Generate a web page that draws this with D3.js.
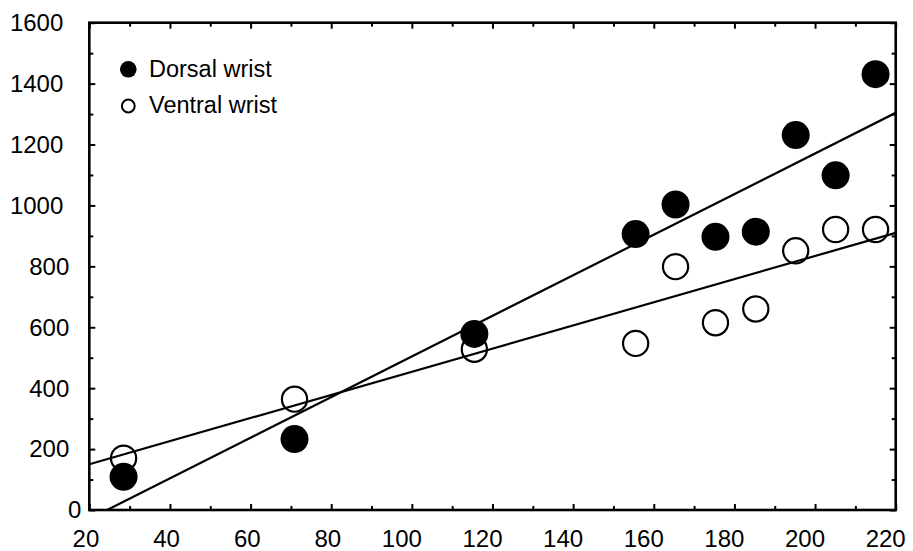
<!DOCTYPE html>
<html>
<head>
<meta charset="utf-8">
<script src="https://cdn.jsdelivr.net/npm/d3@7"></script>
<style>
  html, body { margin: 0; padding: 0; background: #fff; }
  svg { display: block; }
  text { font-family: "Liberation Sans", Arial, sans-serif; fill: #000; }
</style>
</head>
<body>
<svg id="chart" width="913" height="551"></svg>
<script>
// Wrist measurements: x position vs. response, two sites
const xDorsal  = [28.5, 70.9, 115.5, 155.5, 165.4, 175.3, 185.3, 195.2, 205.1, 215.0];
const yDorsal  = [109, 233, 578, 906, 1003, 897, 914, 1231, 1099, 1431];
const xVentral = [28.5, 70.9, 115.5, 155.5, 165.4, 175.3, 185.3, 195.2, 205.1, 215.0];
const yVentral = [170, 364, 528, 547, 799, 615, 660, 851, 921, 921];

// Linear fits [slope, intercept]
const fitDorsal  = [6.667, -162.7];
const fitVentral = [3.8, 74];

const seriesNames = ["Dorsal wrist", "Ventral wrist"];
const xTicks = [20, 40, 60, 80, 100, 120, 140, 160, 180, 200, 220];
const yTicks = [0, 200, 400, 600, 800, 1000, 1200, 1400, 1600];
const xMinor = [30, 50, 70, 90, 110, 130, 150, 170, 190, 210];
const yMinor = [100, 300, 500, 700, 900, 1100, 1300, 1500];

const W = 913, H = 551;
const margin = { left: 89.3, right: 17.3, top: 22.7, bottom: 41 };
const svg = d3.select("#chart");

const x = d3.scaleLinear().domain([20, 220]).range([margin.left, W - margin.right]);
const y = d3.scaleLinear().domain([0, 1600]).range([H - margin.bottom, margin.top]);

svg.append("defs").append("clipPath").attr("id", "plot-clip")
  .append("rect")
  .attr("x", x(20)).attr("y", y(1600))
  .attr("width", x(220) - x(20)).attr("height", y(0) - y(1600));

// Fit lines
const fitLine = (f) => [20, 220].map(v => [x(v), y(f[0] * v + f[1])]);
const lineGen = d3.line();
const fits = svg.append("g").attr("clip-path", "url(#plot-clip)");
[fitDorsal, fitVentral].forEach(f => {
  fits.append("path")
    .attr("d", lineGen(fitLine(f)))
    .attr("fill", "none")
    .attr("stroke", "#000")
    .attr("stroke-width", 2.2);
});

// Ventral points (open)
svg.append("g").selectAll("circle")
  .data(d3.zip(xVentral, yVentral))
  .join("circle")
  .attr("cx", d => x(d[0]))
  .attr("cy", d => y(d[1]))
  .attr("r", 12.6)
  .attr("fill", "none")
  .attr("stroke", "#000")
  .attr("stroke-width", 2.2);

// Dorsal points (filled)
svg.append("g").selectAll("circle")
  .data(d3.zip(xDorsal, yDorsal))
  .join("circle")
  .attr("cx", d => x(d[0]))
  .attr("cy", d => y(d[1]))
  .attr("r", 14)
  .attr("fill", "#000");

// Frame axes with inward ticks on all sides
const major = 6, minor = 4;
const addAxis = (gen, tx, ty, ticks, size) => {
  const g = svg.append("g").attr("transform", `translate(${tx},${ty})`)
    .call(gen.tickValues(ticks).tickSize(-size).tickFormat(""));
  g.select(".domain").remove();
  g.selectAll(".tick line").attr("stroke", "#000").attr("stroke-width", 2);
  return g;
};
const bottomY = y(0), topY = y(1600), leftX = x(20), rightX = x(220);
addAxis(d3.axisBottom(x), 0, bottomY, xTicks, major);
addAxis(d3.axisBottom(x), 0, bottomY, xMinor, minor);
addAxis(d3.axisTop(x), 0, topY, xTicks, major);
addAxis(d3.axisTop(x), 0, topY, xMinor, minor);
addAxis(d3.axisLeft(y), leftX, 0, yTicks, major);
addAxis(d3.axisLeft(y), leftX, 0, yMinor, minor);
addAxis(d3.axisRight(y), rightX, 0, yTicks, major);
addAxis(d3.axisRight(y), rightX, 0, yMinor, minor);

svg.append("rect")
  .attr("x", leftX).attr("y", topY)
  .attr("width", rightX - leftX).attr("height", bottomY - topY)
  .attr("fill", "none").attr("stroke", "#000").attr("stroke-width", 2.6);

// Tick labels
svg.append("g").selectAll("text")
  .data(xTicks)
  .join("text")
  .attr("x", d => x(d) + 10)
  .attr("y", 546.5)
  .attr("text-anchor", "end")
  .attr("font-size", 24)
  .text(d => d);

svg.append("g").selectAll("text")
  .data(yTicks)
  .join("text")
  .attr("x", d => leftX - 26 + 6 * (4 - String(d).length))
  .attr("y", d => y(d))
  .attr("dy", "0.35em")
  .attr("text-anchor", "end")
  .attr("font-size", 24)
  .text(d => d);

// Legend
const legend = svg.append("g");
legend.append("circle").attr("cx", 128.3).attr("cy", 69.3).attr("r", 8.3).attr("fill", "#000");
legend.append("circle").attr("cx", 128.3).attr("cy", 106).attr("r", 6.4)
  .attr("fill", "none").attr("stroke", "#000").attr("stroke-width", 2);
legend.selectAll("text")
  .data(seriesNames)
  .join("text")
  .attr("x", 149)
  .attr("y", (d, i) => 76.5 + i * 36.5)
  .attr("font-size", 23.5)
  .text(d => d);
</script>
</body>
</html>
